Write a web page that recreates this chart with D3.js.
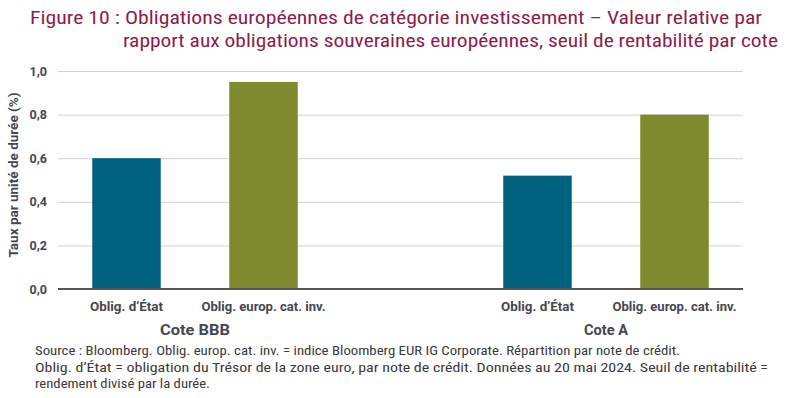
<!DOCTYPE html>
<html><head><meta charset="utf-8">
<script src="https://cdn.jsdelivr.net/npm/d3@7"></script>
<style>
body{margin:0;background:#fff;}
svg{display:block;}
</style></head>
<body><svg id="c" width="800" height="398"></svg>
<script>
const groups = ["Cote BBB", "Cote A"];
const seriesNames = ["Oblig. d’État", "Oblig. europ. cat. inv."];
const valuesEtat = [0.60, 0.52];
const valuesEurop = [0.95, 0.80];
const yTicks = [0, 0.2, 0.4, 0.6, 0.8, 1.0];
const titleLines = ["Figure 10 : Obligations européennes de catégorie investissement – Valeur relative par",
                    "rapport aux obligations souveraines européennes, seuil de rentabilité par cote"];
const sourceLines = ["Source : Bloomberg. Oblig. europ. cat. inv. = indice Bloomberg EUR IG Corporate. Répartition par note de crédit.",
  "Oblig. d’État = obligation du Trésor de la zone euro, par note de crédit. Données au 20 mai 2024. Seuil de rentabilité =",
  "rendement divisé par la durée."];
const yTitle = "Taux par unité de durée (%)";
const colors = ["#00617f", "#7f8a2e"];

const svg = d3.select("#c");
const L = 58, R = 743, T = 71, B = 289;
const boldFont = "Roboto, 'DejaVu Sans', sans-serif";
const textCol = "#45474f";

const slots = ["BBB-0","BBB-1","gap","A-0","A-1"];
const x = d3.scaleBand().domain(slots).range([L, R]).paddingInner(0.5).paddingOuter(0.25);
const y = d3.scaleLinear().domain([0, 1]).range([B, T]);

const bars = [];
groups.forEach((g, gi) => {
  const key = gi === 0 ? "BBB" : "A";
  bars.push({slot: key + "-0", v: valuesEtat[gi], c: colors[0], label: seriesNames[0], w: 73, g});
  bars.push({slot: key + "-1", v: valuesEurop[gi], c: colors[1], label: seriesNames[1], w: 124, g});
});

// title
const titleFont = "'Roboto Condensed','Liberation Sans Narrow','DejaVu Sans Condensed',Roboto,sans-serif";
svg.append("text").attr("x", 30).attr("y", 24).attr("fill", "#8c1d4d")
  .attr("font-family", titleFont).attr("font-size", 19)
  .attr("textLength", 732).attr("lengthAdjust", "spacingAndGlyphs").text(titleLines[0]);
svg.append("text").attr("x", 123).attr("y", 47).attr("fill", "#8c1d4d")
  .attr("font-family", titleFont).attr("font-size", 19)
  .attr("textLength", 655).attr("lengthAdjust", "spacingAndGlyphs").text(titleLines[1]);

// gridlines + y tick labels
const yAxis = d3.axisLeft(y).tickValues(yTicks).tickSize(-(R - L)).tickPadding(11)
  .tickFormat(d => d3.format(".1f")(d).replace(".", ","));
const ga = svg.append("g").attr("transform", `translate(${L},0)`).call(yAxis);
ga.select(".domain").remove();
ga.selectAll(".tick line").attr("stroke", "#d3d3d3").attr("stroke-width", 1);
ga.selectAll(".tick text").attr("fill", textCol).attr("font-size", 12.5).attr("font-weight", "bold")
  .attr("font-family", boldFont);

// bars
svg.append("g").selectAll("rect").data(bars).join("rect")
  .attr("x", d => x(d.slot)).attr("width", x.bandwidth())
  .attr("y", d => y(d.v)).attr("height", d => y(0) - y(d.v))
  .attr("fill", d => d.c);

// zero line
svg.append("line").attr("x1", L).attr("x2", R).attr("y1", y(0)).attr("y2", y(0))
  .attr("stroke", "#555").attr("stroke-width", 2);

// category labels
svg.append("g").selectAll("text").data(bars).join("text")
  .attr("x", d => x(d.slot) + x.bandwidth() / 2).attr("y", 311)
  .attr("text-anchor", "middle").attr("fill", textCol).attr("font-size", 12.5).attr("font-weight", "bold")
  .attr("font-family", boldFont)
  .attr("textLength", d => d.w).attr("lengthAdjust", "spacingAndGlyphs").text(d => d.label);

// group labels
const gw = [70, 44];
groups.forEach((g, gi) => {
  const key = gi === 0 ? "BBB" : "A";
  const cx = (x(key + "-0") + x(key + "-1") + x.bandwidth()) / 2;
  svg.append("text").attr("x", cx).attr("y", 335).attr("text-anchor", "middle")
    .attr("fill", textCol).attr("font-size", 14.5).attr("font-weight", "bold")
    .attr("font-family", boldFont)
    .attr("textLength", gw[gi]).attr("lengthAdjust", "spacingAndGlyphs").text(g);
});

// y title
svg.append("text").attr("transform", `translate(18,${(T + B) / 2 - 5}) rotate(-90)`)
  .attr("text-anchor", "middle").attr("fill", textCol).attr("font-size", 12).attr("font-weight", "bold")
  .attr("font-family", boldFont)
  .attr("textLength", 165).attr("lengthAdjust", "spacingAndGlyphs").text(yTitle);

// source
const srcLens = [645, 733, 175];
sourceLines.forEach((s, i) => {
  svg.append("text").attr("x", 35).attr("y", 355 + i * 16.5).attr("fill", "#3a3a3a")
    .attr("font-size", 12.5).attr("font-family", titleFont)
    .attr("textLength", srcLens[i]).attr("lengthAdjust", "spacingAndGlyphs").text(s);
});
</script></body></html>
